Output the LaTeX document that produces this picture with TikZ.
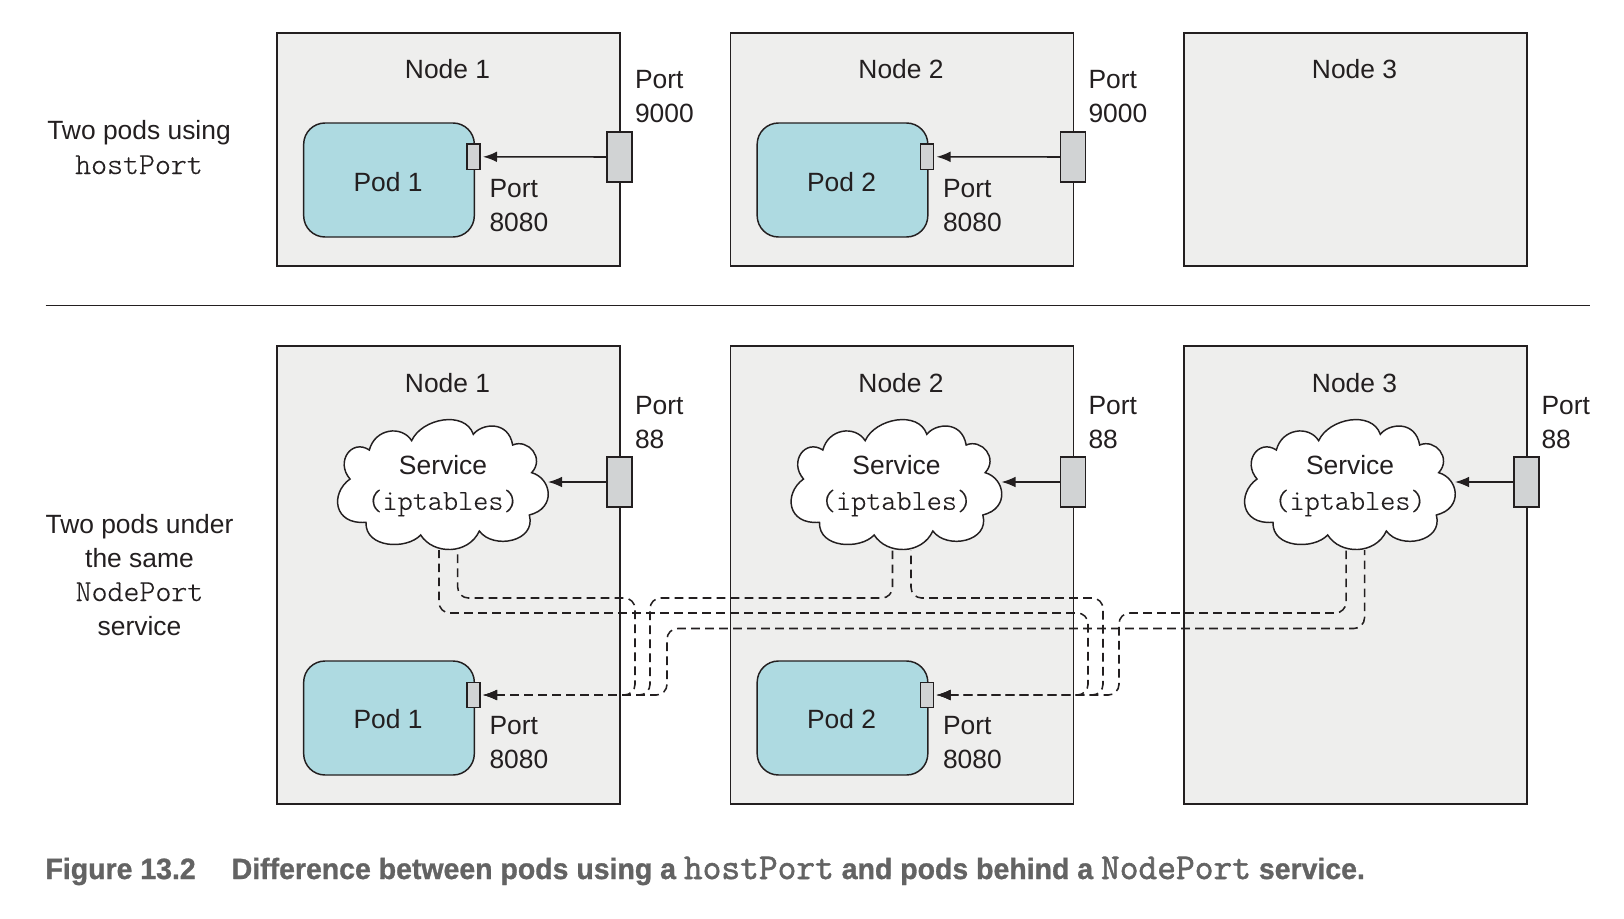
\documentclass[tikz,border=0pt]{standalone}
\usepackage{fontspec}
\setmainfont{Liberation Sans}
\newfontfamily\monof[FakeBold=0.25]{Latin Modern Mono Light}
\newfontfamily\capf[FakeStretch=0.97,FakeBold=1]{Liberation Sans Bold}
\newfontfamily\capm[FakeBold=1.6]{Latin Modern Mono}
\usetikzlibrary{arrows.meta}
\definecolor{ink}{HTML}{231F20}
\definecolor{boxfill}{HTML}{EEEEED}
\definecolor{podfill}{HTML}{AEDAE1}
\definecolor{portfill}{HTML}{D1D3D4}
\definecolor{capgrey}{HTML}{636363}
\tikzset{
  vmbox/.style={draw=ink,line width=1.3pt,fill=boxfill,inner sep=0pt,outer sep=0pt,minimum width=257.4pt},
  podbox/.style={draw=ink,line width=1.1pt,fill=podfill,rounded corners=16pt,inner sep=0pt,outer sep=0pt,minimum width=128pt,minimum height=85.5pt},
  smallport/.style={draw=ink,line width=1.1pt,fill=portfill,inner sep=0pt,outer sep=0pt,minimum width=9.75pt,minimum height=19pt},
  bigport/.style={draw=ink,line width=1.1pt,fill=portfill,inner sep=0pt,outer sep=0pt,minimum width=18.75pt,minimum height=37.5pt},
  txt/.style={text=ink,font=\fontsize{19.8}{25.5}\selectfont,inner sep=0pt,outer sep=0pt},
  lab/.style={txt,anchor=base},
  leftlab/.style={txt,anchor=base west,align=left},
  midlab/.style={txt,anchor=base,align=center},
  arr/.style={draw=ink,line width=1.15pt,-{Latex[length=10.5pt,width=8pt]},shorten >=2.25pt},
  darr/.style={draw=ink,line width=1.15pt,{Latex[length=10.5pt,width=8pt]}-,shorten <=2.25pt,dash pattern=on 6.5pt off 4pt,rounded corners=8pt},
}
\newcommand{\mono}[1]{{\fontsize{22.8}{25.5}\monof #1}}
\newcommand{\monos}[1]{{\fontsize{21.6}{25.5}\monof #1}}
\newcommand{\cloudat}[1]{%
  \begin{scope}[shift={(320+#1,400)},scale=0.33333]
    \draw[draw=ink,line width=1.1pt,fill=white]
      (275,122) .. controls (305,55) and (435,30) .. (460,103)
      .. controls (485,70) and (565,60) .. (578,135)
      .. controls (625,115) and (675,175) .. (635,218)
      .. controls (695,235) and (710,325) .. (628,345)
      .. controls (650,425) and (520,450) .. (478,393)
      .. controls (445,465) and (340,465) .. (302,405)
      .. controls (260,450) and (135,445) .. (138,367)
      .. controls (40,375) and (30,280) .. (90,237)
      .. controls (45,185) and (95,115) .. (148,150)
      .. controls (165,85) and (245,75) .. (275,122) -- cycle;
  \end{scope}}
\begin{document}
\begin{tikzpicture}[x=0.75pt,y=-0.75pt]
\useasboundingbox[fill=white] (0,0) rectangle (1624,918);
% upper row
\node[vmbox,minimum height=174.75pt] (a1) at (448.5,149.5) {};
\node[vmbox,minimum height=174.75pt] (a2) at (902,149.5) {};
\node[vmbox,minimum height=174.75pt] (a3) at (1355.5,149.5) {};
\node[lab] (a1t) at (447.5,78.5) {Node 1};
\node[lab] (a2t) at (901,78.5) {Node 2};
\node[lab] (a3t) at (1354.5,78.5) {Node 3};
\node[podbox] (ap1) at (389,180) {};
\node[podbox] (ap2) at (842.5,180) {};
\node[lab] (ap1t) at (388,191.2) {Pod 1};
\node[lab] (ap2t) at (841.5,191.2) {Pod 2};
\node[smallport] (as1) at (473.5,156.8) {};
\node[smallport] (as2) at (927,156.8) {};
\node[bigport] (ab1) at (619.5,157) {};
\node[bigport] (ab2) at (1073,157) {};
\draw[arr] (ab1.west) -- (as1.east);
\draw[arr] (ab2.west) -- (as2.east);
\node[leftlab] (al1) at (635,122.2) {Port\\9000};
\node[leftlab] (al2) at (1088.5,122.2) {Port\\9000};
\node[leftlab] (al3) at (489.5,231.5) {Port\\8080};
\node[leftlab] (al4) at (943,231.5) {Port\\8080};
\node[midlab] (atitle) at (139,174) {Two pods using\\[0.5pt]\mono{hostPort}};
% separator
\coordinate (sepl) at (45.7,305.5);
\coordinate (sepr) at (1590,305.5);
\draw[ink,line width=1.1pt] (sepl) -- (sepr);
% lower row
\node[vmbox,minimum height=343.5pt] (b1) at (448.5,575) {};
\node[vmbox,minimum height=343.5pt] (b2) at (902,575) {};
\node[vmbox,minimum height=343.5pt] (b3) at (1355.5,575) {};
\node[lab] (b1t) at (447.5,392.2) {Node 1};
\node[lab] (b2t) at (901,392.2) {Node 2};
\node[lab] (b3t) at (1354.5,392.2) {Node 3};
\node[podbox] (bp1) at (389,718) {};
\node[podbox] (bp2) at (842.5,718) {};
\node[lab] (bp1t) at (388,728.5) {Pod 1};
\node[lab] (bp2t) at (841.5,728.5) {Pod 2};
\node[smallport] (bs1) at (473.5,695) {};
\node[smallport] (bs2) at (927,695) {};
\node[bigport] (bb1) at (619.5,482) {};
\node[bigport] (bb2) at (1073,482) {};
\node[bigport] (bb3) at (1526.5,482) {};
\cloudat{0}
\cloudat{453.5}
\cloudat{907}
\node[midlab] (c1t) at (443,509.8) {Service\\[1.2pt]\monos{(iptables)}};
\node[midlab] (c2t) at (896.5,509.8) {Service\\[1.2pt]\monos{(iptables)}};
\node[midlab] (c3t) at (1350,509.8) {Service\\[1.2pt]\monos{(iptables)}};
\coordinate (c1i) at (548,482);
\coordinate (c2i) at (1001.5,482);
\coordinate (c3i) at (1455,482);
\draw[arr,shorten >=0pt] (bb1.west) -- (c1i);
\draw[arr,shorten >=0pt] (bb2.west) -- (c2i);
\draw[arr,shorten >=0pt] (bb3.west) -- (c3i);
\coordinate (c1a) at (439,550);
\coordinate (c1b) at (457.7,550);
\coordinate (c2a) at (892.5,550);
\coordinate (c2b) at (911,550);
\coordinate (c3a) at (1346,550);
\coordinate (c3b) at (1364.5,550);
\draw[darr] (bs1.east) -- (635,695) -- (635,598) -- (457.7,598) -- (c1b);
\draw[darr] (bs1.east) -- (650,695) -- (650,598) -- (892.5,598) -- (c2a);
\draw[darr] (bs1.east) -- (667,695) -- (667,628.5) -- (1364.5,628.5) -- (c3b);
\draw[darr] (bs2.east) -- (1088,695) -- (1088,613) -- (439,613) -- (c1a);
\draw[darr] (bs2.east) -- (1103,695) -- (1103,598) -- (911,598) -- (c2b);
\draw[darr] (bs2.east) -- (1119,695) -- (1119,613) -- (1346,613) -- (c3a);
\node[leftlab] (bl1) at (635,448.2) {Port\\88};
\node[leftlab] (bl2) at (1088.5,448.2) {Port\\88};
\node[leftlab] (bl3) at (1541.5,448.2) {Port\\88};
\node[leftlab] (bl4) at (489.5,768.5) {Port\\8080};
\node[leftlab] (bl5) at (943,768.5) {Port\\8080};
\node[midlab] (btitle) at (139.5,635) {Two pods under\\the same\\\mono{NodePort}\\service};
% caption
\node[anchor=base west,inner sep=0pt,outer sep=0pt,text=capgrey,font=\fontsize{22}{28}\capf] (cap) at (45.5,879)
  {Figure 13.2\hspace{27pt}Difference between pods using a {\capm\fontsize{27.3}{28}\selectfont hostPort} and pods behind a {\capm\fontsize{27.3}{28}\selectfont NodePort} service.};
\end{tikzpicture}
\end{document}
